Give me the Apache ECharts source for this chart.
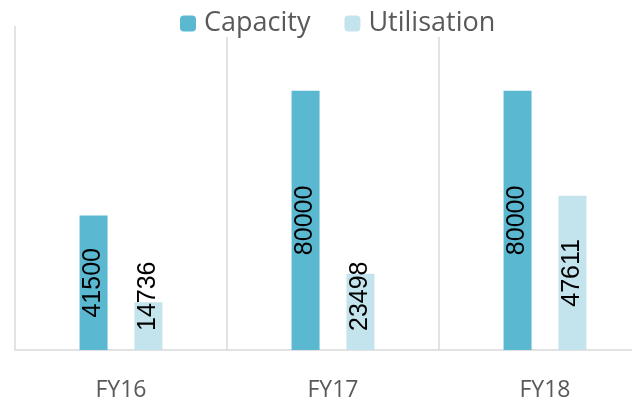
<!DOCTYPE html>
<html>
<head>
<meta charset="utf-8">
<script src="https://cdn.jsdelivr.net/npm/echarts@6/dist/echarts.min.js"></script>
<style>
  html, body { margin: 0; padding: 0; background: #fff; overflow: hidden; }
  /* the excel plot runs past the right edge of the picture, so the canvas is wider than the window */
  #chart { width: 660px; height: 402px; }
</style>
</head>
<body>
<div id="chart"></div>
<script>
// values
var categories = ["FY16", "FY17", "FY18"];
var capacity = [41500, 80000, 80000];
var utilisation = [14736, 23498, 47611];

var axisMax = 100000;

// short bars get their label pushed up from the bottom, like excel does
function withLabels(values) {
  return values.map(function (v) {
    if (v < 30000) {
      return {
        value: v,
        label: {
          position: "insideBottom",
          distance: 19,
          align: "left",
          verticalAlign: "middle"
        }
      };
    }
    return v;
  });
}

var chart = echarts.init(document.getElementById("chart"));

var barLabel = {
  show: true,
  position: "inside",
  rotate: 90,
  color: "#000",
  fontFamily: "Liberation Sans",
  fontSize: 25
};

chart.setOption({
  animation: false,
  legend: {
    data: ["Capacity", "Utilisation"],
    left: 180,
    top: 10,
    itemWidth: 16,
    itemHeight: 16,
    itemGap: 34,
    padding: [0, 2, 0, 0],
    backgroundColor: "#fff",
    textStyle: {
      fontFamily: "Open Sans",
      fontSize: 27,
      color: "#595959",
      padding: [0, 0, 0, 3]
    }
  },
  grid: {
    left: 15,
    right: 9,
    top: 26,
    bottom: 50
  },
  xAxis: {
    type: "category",
    data: categories,
    axisTick: { show: false },
    axisLine: { lineStyle: { color: "#d9d9d9", width: 1.5 } },
    splitLine: { show: true, lineStyle: { color: "#d9d9d9", width: 1.5 } },
    axisLabel: {
      margin: 29,
      fontFamily: "Open Sans",
      fontSize: 23,
      color: "#595959"
    }
  },
  yAxis: {
    type: "value",
    min: 0,
    max: axisMax,
    show: false
  },
  series: [
    {
      name: "Capacity",
      type: "bar",
      data: withLabels(capacity),
      barWidth: 28,
      barGap: "96%",
      itemStyle: { color: "#5BB8D1" },
      label: barLabel
    },
    {
      name: "Utilisation",
      type: "bar",
      data: withLabels(utilisation),
      barWidth: 28,
      itemStyle: { color: "#C3E4ED" },
      label: barLabel
    }
  ]
});
</script>
</body>
</html>
